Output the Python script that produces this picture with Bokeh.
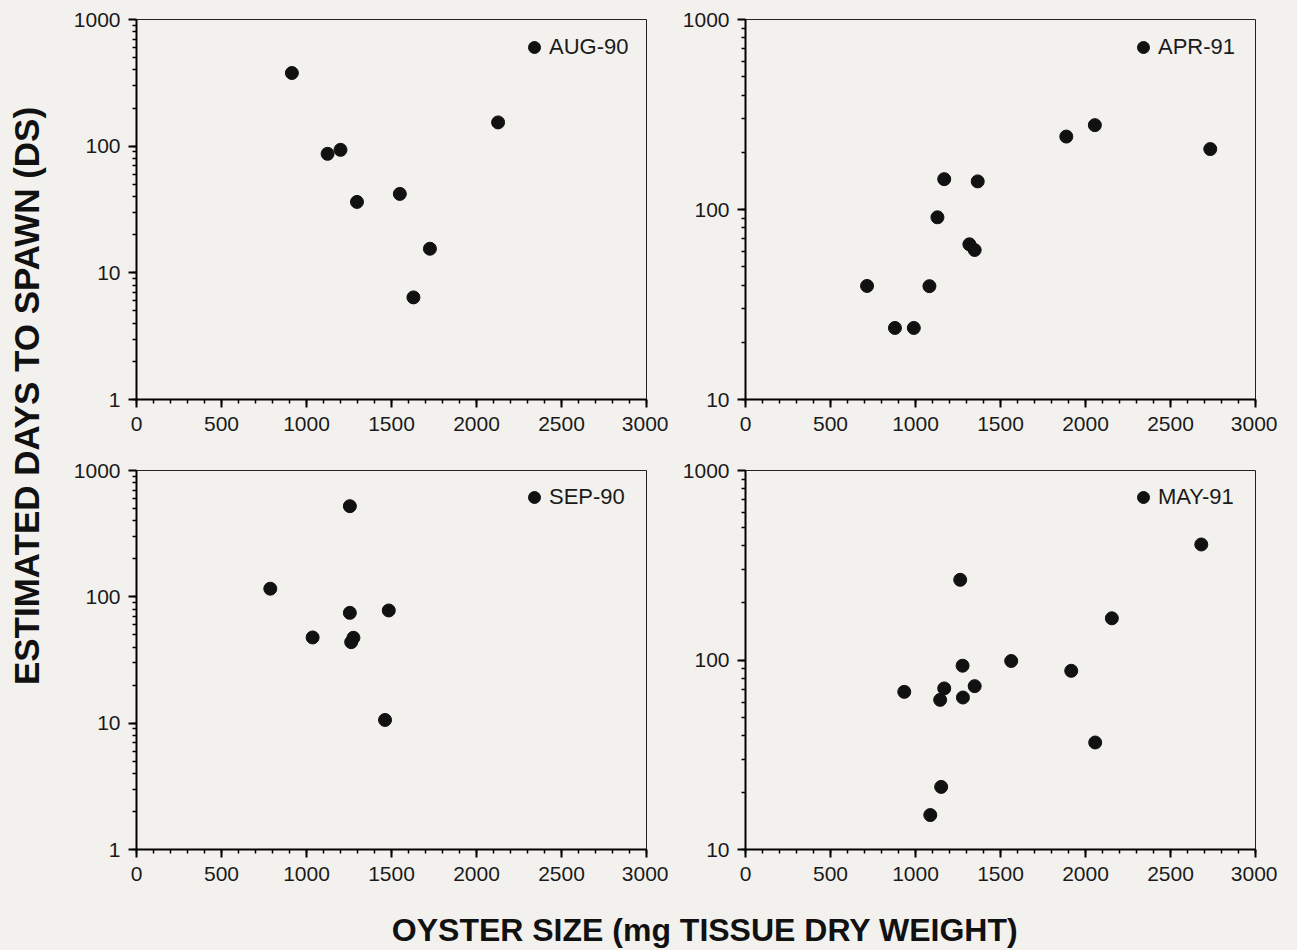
import numpy as np
from bokeh.plotting import figure
from bokeh.models import (FixedTicker, Legend, LegendItem, Label, Range1d,
                          BasicTickFormatter)
from bokeh.layouts import row, column
from bokeh.embed import file_html
from bokeh.resources import INLINE

# ---------------- data ----------------
x_ticks = [0, 500, 1000, 1500, 2000, 2500, 3000]
x_minor = list(range(0, 3001, 100))

aug90_x = [914, 1124, 1200, 1297, 1549, 1726, 1629, 2127]
aug90_y = [378, 87, 93.5, 36.3, 42, 15.5, 6.4, 154]

apr91_x = [715, 879, 990, 1082, 1129, 1169, 1317, 1348, 1366, 1887, 2055, 2734]
apr91_y = [39.6, 23.8, 23.8, 39.5, 91, 144.5, 65.6, 61.2, 140.6, 242, 278, 208]

sep90_x = [787, 1036, 1255, 1255, 1276, 1263, 1484, 1462]
sep90_y = [116, 47.7, 522, 74.7, 47.4, 43.8, 78, 10.6]

may91_x = [934, 1087, 1145, 1169, 1151, 1263, 1277, 1279, 1348, 1563, 1916, 2057, 2155, 2681]
may91_y = [67.9, 15.2, 61.6, 70.8, 21.4, 265, 93.3, 63.4, 72.8, 98.8, 87.7, 36.7, 166, 407]

y_ticks_1 = [1, 10, 100, 1000]
y_ticks_10 = [10, 100, 1000]

x_title = "OYSTER SIZE (mg TISSUE DRY WEIGHT)"
y_title = "ESTIMATED DAYS TO SPAWN (DS)"

# ---------------- style ----------------
BG = "#f3f1ee"
FONT = "Liberation Sans"
INK = "#111111"


def log_minor(lo, hi):
    out = []
    d = lo
    while d < hi:
        out += [d * k for k in range(1, 10)]
        d *= 10
    return out


def panel(xs, ys, label, ymin, yticks, bl, bt, br, bb, width, height):
    p = figure(width=width, height=height,
               x_range=Range1d(0, 3000), y_range=Range1d(ymin, 1000),
               y_axis_type="log", output_backend="svg", toolbar_location=None,
               min_border_left=bl, min_border_top=bt, min_border_right=br,
               min_border_bottom=bb, title=None,
               background_fill_color=BG, border_fill_color=BG,
               outline_line_color="#222222", outline_line_width=1)
    r = p.scatter(xs, ys, size=13, color=INK)
    p.xgrid.visible = False
    p.ygrid.visible = False
    p.xaxis.ticker = FixedTicker(ticks=x_ticks, minor_ticks=x_minor)
    p.yaxis.ticker = FixedTicker(ticks=yticks, minor_ticks=log_minor(ymin, 1000))
    p.yaxis.formatter = BasicTickFormatter(use_scientific=False)
    for ax in (p.xaxis[0], p.yaxis[0]):
        ax.axis_line_color = "#000000"
        ax.axis_line_width = 2
        ax.major_tick_line_color = "#000000"
        ax.major_tick_line_width = 2
        ax.major_tick_in = 0
        ax.major_tick_out = 8
        ax.minor_tick_line_color = "#000000"
        ax.minor_tick_line_width = 1.5
        ax.minor_tick_in = 0
        ax.minor_tick_out = 4
        ax.major_label_text_font = FONT
        ax.major_label_text_font_size = "21px"
        ax.major_label_text_color = "#1a1a1a"
    p.xaxis.major_label_standoff = 9
    p.yaxis.major_label_standoff = 8
    leg = Legend(items=[LegendItem(label=label, renderers=[r])],
                 location=(383, 337), padding=0, margin=0, spacing=0,
                 glyph_width=30, glyph_height=30, label_standoff=0,
                 label_text_font=FONT, label_text_font_size="22px",
                 label_text_color="#1a1a1a",
                 background_fill_alpha=0, border_line_alpha=0)
    p.add_layout(leg)
    return p


YL_W = 58
W_L = 78 + 510 + 22
W_R = 77 + 510 + 22
H_T = 19 + 380 + 50
H_B = 21 + 379 + 44
XL_H = 55

p1 = panel(aug90_x, aug90_y, "AUG-90", 1, y_ticks_1, 78, 19, 22, 50, W_L, H_T)
p2 = panel(apr91_x, apr91_y, "APR-91", 10, y_ticks_10, 77, 19, 22, 50, W_R, H_T)
p3 = panel(sep90_x, sep90_y, "SEP-90", 1, y_ticks_1, 78, 21, 22, 44, W_L, H_B)
p4 = panel(may91_x, may91_y, "MAY-91", 10, y_ticks_10, 77, 21, 22, 44, W_R, H_B)

grid_h = H_T + H_B
ylab = figure(width=YL_W, height=grid_h, x_range=Range1d(0, 1), y_range=Range1d(0, 1),
              x_axis_type=None, y_axis_type=None, output_backend="svg",
              toolbar_location=None, min_border=0, title=None,
              outline_line_color=None, background_fill_color=BG, border_fill_color=BG)
ylab.add_layout(Label(x=25.5, y=grid_h - 395.5, x_units="screen", y_units="screen",
                      text=y_title, angle=np.pi / 2, text_align="center",
                      text_baseline="middle", text_font=FONT, text_font_style="bold",
                      text_font_size="35px", text_color=INK))

total_w = YL_W + W_L + W_R
xlab = figure(width=total_w, height=XL_H, x_range=Range1d(0, 1), y_range=Range1d(0, 1),
              x_axis_type=None, y_axis_type=None, output_backend="svg",
              toolbar_location=None, min_border=0, title=None,
              outline_line_color=None, background_fill_color=BG, border_fill_color=BG)
xlab.add_layout(Label(x=704.5, y=19, x_units="screen", y_units="screen",
                      text=x_title, text_align="center", text_baseline="middle",
                      text_font=FONT, text_font_style="bold",
                      text_font_size="32px", text_color=INK))

layout = column(row(ylab, column(row(p1, p2), row(p3, p4))), xlab)

html = file_html(layout, INLINE)
i = html.rfind("<body")
html = html[:i] + '<body style="background-color:%s;"' % BG + html[i + 5:]
open("out.html", "w").write(html)
